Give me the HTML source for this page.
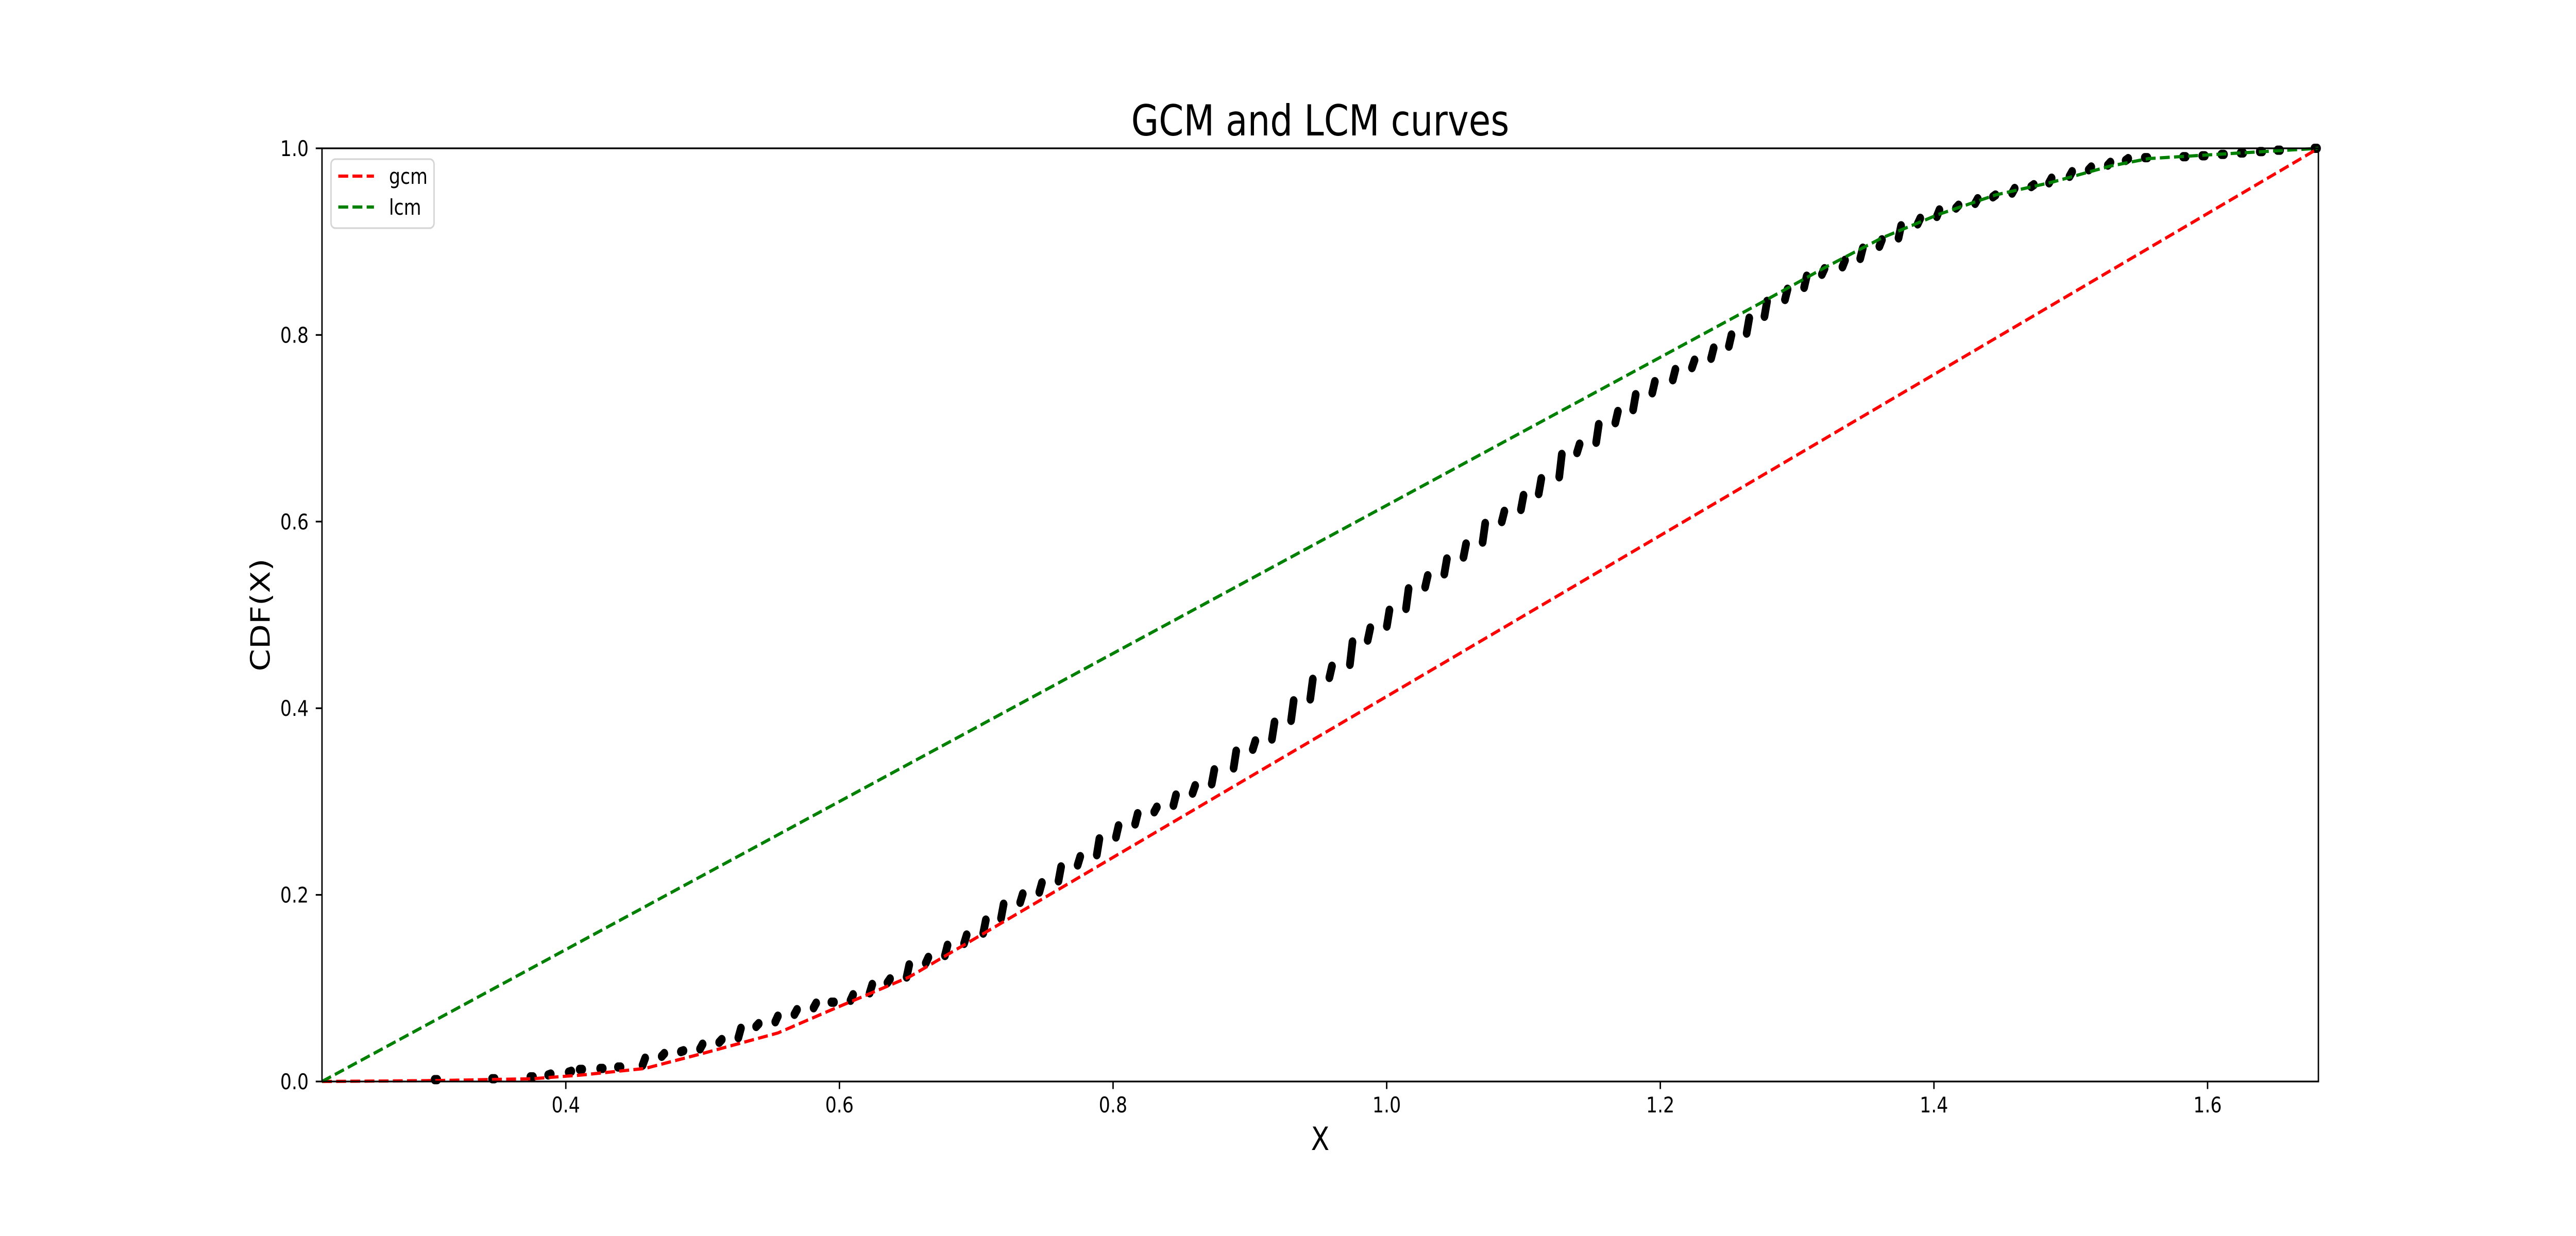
<!DOCTYPE html>
<html><head><meta charset="utf-8"><style>
html,body{margin:0;padding:0;background:#fff;overflow:hidden;width:100%;height:100%;}
svg{display:block;width:100vw;height:100vh;}
text{font-family:"DejaVu Sans","Liberation Sans",sans-serif;fill:#000;}
</style></head><body>
<svg id="chart" viewBox="0 0 6000 2400" preserveAspectRatio="none" xmlns="http://www.w3.org/2000/svg">
<rect x="0" y="0" width="6000" height="2400" fill="#fff"/>
<text x="3075" y="263" font-size="83" text-anchor="middle">GCM and LCM curves</text>
<text x="3075" y="2233" font-size="62.5" text-anchor="middle">X</text>
<text transform="translate(628,1194) rotate(-90)" font-size="62.5" text-anchor="middle">CDF(X)</text>
<g id="xticks"></g>
<g id="yticks"></g>
<g id="plot"></g>
<rect x="750" y="288" width="4650" height="1812" fill="none" stroke="#000" stroke-width="3.3"/>
<g>
<rect x="771" y="309" width="240" height="134" rx="10" fill="#fff" fill-opacity="0.8" stroke="#d5d5d5" stroke-width="3.3"/>
<line x1="788" y1="342" x2="871" y2="342" stroke="#ff0000" stroke-width="6.25" stroke-dasharray="23 10"/>
<text x="906" y="357" font-size="41.7">gcm</text>
<line x1="788" y1="402" x2="871" y2="402" stroke="#008000" stroke-width="6.25" stroke-dasharray="23 10"/>
<text x="906" y="417" font-size="41.7">lcm</text>
</g>
</svg>
<script>
const xTicks = [0.4, 0.6, 0.8, 1.0, 1.2, 1.4, 1.6];
const xTickLabels = ["0.4", "0.6", "0.8", "1.0", "1.2", "1.4", "1.6"];
const yTicks = [0.0, 0.2, 0.4, 0.6, 0.8, 1.0];
const yTickLabels = ["0.0", "0.2", "0.4", "0.6", "0.8", "1.0"];
const ecdfX = [0.306,0.348,0.376,0.389,0.404,0.412,0.427,0.440,0.458,0.472,0.486,0.500,0.514,0.528,0.541,0.555,0.569,0.583,0.596,0.610,0.624,0.637,0.651,0.665,0.679,0.693,0.707,0.720,0.734,0.748,0.762,0.776,0.790,0.804,0.818,0.832,0.846,0.860,0.874,0.890,0.904,0.918,0.932,0.946,0.960,0.975,0.988,1.002,1.016,1.030,1.044,1.058,1.072,1.086,1.100,1.113,1.128,1.141,1.155,1.169,1.182,1.196,1.211,1.225,1.239,1.252,1.265,1.278,1.293,1.307,1.320,1.335,1.348,1.362,1.376,1.390,1.404,1.418,1.432,1.445,1.459,1.473,1.486,1.501,1.515,1.529,1.542,1.556,1.584,1.598,1.612,1.626,1.640,1.653,1.680];
const ecdfY = [0.002,0.003,0.005,0.008,0.011,0.013,0.014,0.0155,0.025,0.030,0.033,0.040,0.045,0.057,0.062,0.070,0.077,0.084,0.085,0.093,0.104,0.110,0.125,0.133,0.146,0.157,0.173,0.190,0.201,0.213,0.230,0.241,0.260,0.274,0.287,0.294,0.307,0.317,0.334,0.354,0.365,0.385,0.408,0.431,0.445,0.471,0.486,0.505,0.528,0.542,0.560,0.576,0.598,0.611,0.628,0.646,0.672,0.683,0.704,0.718,0.736,0.750,0.763,0.773,0.786,0.800,0.818,0.836,0.849,0.863,0.871,0.880,0.893,0.902,0.917,0.925,0.934,0.939,0.946,0.950,0.957,0.961,0.968,0.975,0.980,0.985,0.989,0.990,0.991,0.992,0.9935,0.995,0.9965,0.998,1.0];
const gcmX = [0.2218,0.306,0.376,0.412,0.458,0.500,0.555,0.596,0.651,0.714,1.681];
const gcmY = [0.0,0.001,0.003,0.007,0.014,0.030,0.052,0.078,0.112,0.166,1.0];
const lcmX = [0.2218,1.273,1.320,1.362,1.403,1.445,1.486,1.529,1.557,1.612,1.681];
const lcmY = [0.0,0.834,0.872,0.904,0.929,0.950,0.9636,0.981,0.989,0.994,1.0];

const X0 = 750, X1 = 5400, Y0 = 2100, Y1 = 288;
const xMin = 0.2218, xMax = 1.681, yMin = 0, yMax = 1;
function sx(v){ return X0 + (v - xMin) / (xMax - xMin) * (X1 - X0); }
function sy(v){ return Y0 - (v - yMin) / (yMax - yMin) * (Y0 - Y1); }
const NS = "http://www.w3.org/2000/svg";
function mk(tag, attrs, parent){
  const el = document.createElementNS(NS, tag);
  for (const k in attrs) el.setAttribute(k, attrs[k]);
  parent.appendChild(el);
  return el;
}
const xg = document.getElementById('xticks');
xTicks.forEach((t, i) => {
  const tk = mk('line', {x1: sx(t), x2: sx(t), y1: Y0, y2: Y0 + 14.6, stroke: '#000', 'stroke-width': 3.3}, xg);
  
  
  const lb = mk('text', {x: sx(t), y: 2160, 'font-size': 41.7, 'text-anchor': 'middle'}, xg);
  lb.textContent = xTickLabels[i];
  
  
});
const yg = document.getElementById('yticks');
yTicks.forEach((t, i) => {
  const tk = mk('line', {x1: X0 - 14.6, x2: X0, y1: sy(t), y2: sy(t), stroke: '#000', 'stroke-width': 3.3}, yg);
  
  
  const lb = mk('text', {x: 719, y: sy(t) + 15, 'font-size': 41.7, 'text-anchor': 'end'}, yg);
  lb.textContent = yTickLabels[i];
  
  
});
const pg = document.getElementById('plot');
const ecdfG = mk('g', {}, pg);


let prev = 0;
ecdfX.forEach((x, i) => {
  const y = ecdfY[i];
  const lo = Math.min(prev + 0.002, y);
  const seg = mk('line', {x1: sx(x) - 6, y1: sy(lo), x2: sx(x), y2: sy(y), stroke: '#000', 'stroke-width': 18, 'stroke-linecap': 'round'}, ecdfG);
  
  
  prev = y;
});
function path(xs, ys){ return xs.map((x, i) => (i ? 'L' : 'M') + sx(x).toFixed(1) + ',' + sy(ys[i]).toFixed(1)).join(' '); }
const gcm = mk('path', {d: path(gcmX, gcmY), fill: 'none', stroke: '#ff0000', 'stroke-width': 6.25, 'stroke-dasharray': '23 10'}, pg);


const lcm = mk('path', {d: path(lcmX, lcmY), fill: 'none', stroke: '#008000', 'stroke-width': 6.25, 'stroke-dasharray': '23 10'}, pg);


</script>
</body></html>
